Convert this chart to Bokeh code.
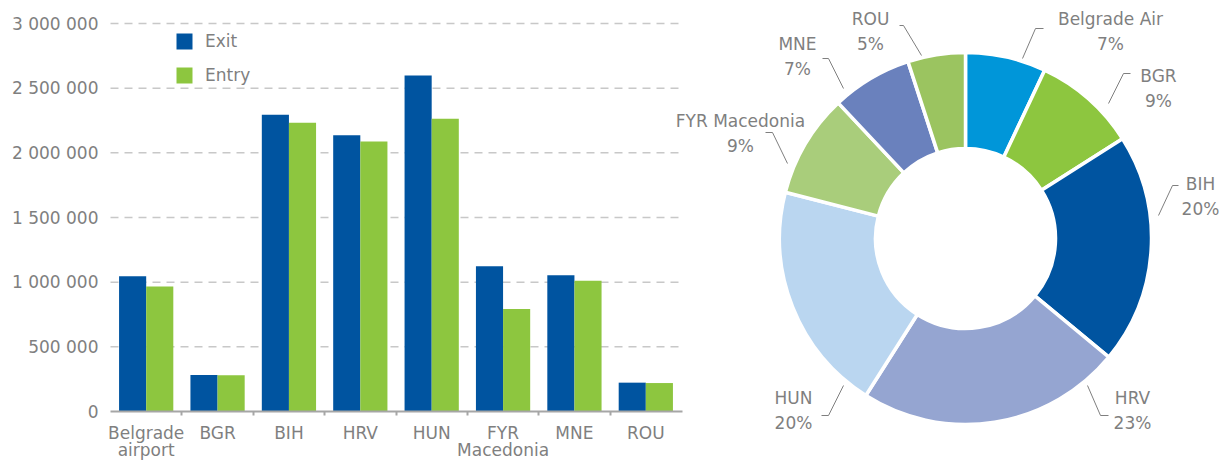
import numpy as np
from bokeh.plotting import figure
from bokeh.models import Range1d, FixedTicker, CustomJSTickFormatter, Legend, LegendItem, ColumnDataSource
from bokeh.core.properties import value
from bokeh.embed import file_html
from bokeh.resources import INLINE

# ---------------- data ----------------
categories = ["Belgrade\nairport", "BGR", "BIH", "HRV", "HUN", "FYR\nMacedonia", "MNE", "ROU"]
exit_vals = [1046000, 282000, 2295000, 2135000, 2597000, 1124000, 1054000, 223000]
entry_vals = [966000, 280000, 2233000, 2087000, 2264000, 793000, 1010000, 220000]
y_ticks = [0, 500000, 1000000, 1500000, 2000000, 2500000, 3000000]
y_tick_labels = ["0", "500 000", "1 000 000", "1 500 000", "2 000 000", "2 500 000", "3 000 000"]

pie_names = ["Belgrade Air", "BGR", "BIH", "HRV", "HUN", "FYR Macedonia", "MNE", "ROU"]
pie_pct = [7, 9, 20, 23, 20, 9, 7, 5]

# ---------------- styles / layout ----------------
W, H = 1222, 461
FONT = "DejaVu Sans"
TXT = "#7f7f7f"
C_EXIT = "#0054a0"
C_ENTRY = "#8dc63f"
pie_colors = ["#0096d9", "#8dc63f", "#0054a0", "#95a5d1", "#bad6f0", "#a9cd7b", "#6a81bd", "#9bc460"]

# bar-chart frame placement (pixels)
BAR_L, BAR_R, BAR_TOP, BAR_ZERO = 110, 681, 23, 411
YMAX = 3000000

# donut placement (pixels)
CX, CY = 965, 238
R_IN, R_OUT = 90, 186
lab_x = [1110, 1158, 1200, 1132, 793, 740, 797, 870]
lab_y = [18, 75, 183, 397, 397, 120, 43, 18]
lead_x = [[1043, 1035, 1022], [1130, 1123, 1108], [1178, 1172, 1158], [1108, 1100, 1087],
          [821, 828, 843], [765, 772, 787], [822, 828, 843], [899, 903, 921]]
lead_y = [[28, 28, 58], [73, 73, 103], [185, 185, 215], [415, 415, 385],
          [415, 415, 385], [132, 132, 163], [58, 58, 88], [25, 25, 55]]

# ---------------- figure ----------------
n = len(categories)
unit = (BAR_R - BAR_L) / n
ypx = YMAX / (BAR_ZERO - BAR_TOP)
x_range = Range1d(-BAR_L / unit, (W - BAR_L) / unit)
y_range = Range1d(-(H - BAR_ZERO) * ypx, YMAX + BAR_TOP * ypx)

p = figure(width=W, height=H, output_backend="svg", toolbar_location=None,
           x_range=x_range, y_range=y_range, min_border=0)
p.outline_line_color = None
p.grid.visible = False
p.background_fill_color = "white"
p.border_fill_color = "white"

# dashed grid lines (from the tick list)
g_y = [t for t in y_ticks if t > 0]
p.segment(x0=0, x1=n + 0.01, y0=g_y, y1=g_y, line_color="#c8c8c8", line_width=1.5, line_dash="8 6")

idx = np.arange(n)
bw = 0.38
r_exit = p.vbar(x=idx + 0.5 - bw / 2, top=exit_vals, width=bw, color=C_EXIT, line_color=None)
r_entry = p.vbar(x=idx + 0.5 + bw / 2, top=entry_vals, width=bw, color=C_ENTRY, line_color=None)

# x axis
xa = p.xaxis[0]
xa.fixed_location = 0
xa.bounds = (0, n + 0.01)
xa.ticker = FixedTicker(ticks=list(idx + 0.5), minor_ticks=list(range(1, n)))
xa.formatter = CustomJSTickFormatter(args=dict(labels=categories),
                                     code="const i = Math.round(tick - 0.5); return (i >= 0 && i < labels.length) ? labels[i] : '';")
xa.major_tick_line_color = None
xa.major_tick_out = 0
xa.major_tick_in = 0
xa.minor_tick_in = 0
xa.minor_tick_out = 4
xa.minor_tick_line_color = "#a6a6a6"
xa.minor_tick_line_width = 2
xa.axis_line_color = "#a6a6a6"
xa.axis_line_width = 2
xa.major_label_text_font = FONT
xa.major_label_text_font_size = "17px"
xa.major_label_text_color = TXT
xa.major_label_text_line_height = 0.86
xa.major_label_standoff = 7

# y axis
ya = p.yaxis[0]
ya.fixed_location = 0
ya.bounds = (0, YMAX)
ya.ticker = FixedTicker(ticks=y_ticks)
ya.formatter = CustomJSTickFormatter(args=dict(vals=y_ticks, labs=y_tick_labels),
                                     code="const i = vals.indexOf(tick); return i >= 0 ? labs[i] : '';")
ya.axis_line_color = None
ya.major_tick_line_color = None
ya.minor_tick_line_color = None
ya.major_tick_out = 0
ya.major_tick_in = 0
ya.major_label_text_font = FONT
ya.major_label_text_font_size = "17px"
ya.major_label_text_color = TXT
ya.major_label_standoff = 12

legend = Legend(items=[LegendItem(label="Exit", renderers=[r_exit]),
                       LegendItem(label="Entry", renderers=[r_entry])],
                location=(174, H - 84.5), orientation="vertical",
                glyph_width=20, glyph_height=20, label_standoff=11, spacing=14,
                padding=0, margin=0, border_line_color=None, background_fill_alpha=0,
                label_text_font=FONT, label_text_font_size="17px", label_text_color=TXT)
p.add_layout(legend)

# ---------------- donut (pixel coordinate ranges) ----------------
p.extra_x_ranges = {"px": Range1d(0, W)}
p.extra_y_ranges = {"py": Range1d(H, 0)}

pct = np.array(pie_pct, dtype=float)
frac = pct / pct.sum()
cum = np.concatenate([[0], np.cumsum(frac)])
start = np.pi / 2 - cum[:-1] * 2 * np.pi
end = np.pi / 2 - cum[1:] * 2 * np.pi
src = ColumnDataSource(dict(start=start, end=end, color=pie_colors))
p.annular_wedge(x=CX, y=CY, inner_radius=R_IN, outer_radius=R_OUT,
                inner_radius_units="screen", outer_radius_units="screen",
                start_angle="start", end_angle="end", direction="clock",
                fill_color="color", line_color="white", line_width=3.5, source=src,
                x_range_name="px", y_range_name="py")

p.multi_line(xs=lead_x, ys=lead_y, line_color=TXT, line_width=1, x_range_name="px", y_range_name="py")

pct_labels = [f"{v}%" for v in pie_pct]
p.text(x=lab_x, y=lab_y, text=pie_names, text_align="center", text_baseline="middle",
       text_font=value(FONT), text_font_size="17px", text_color=TXT,
       x_range_name="px", y_range_name="py")
p.text(x=lab_x, y=[y + 25 for y in lab_y], text=pct_labels, text_align="center", text_baseline="middle",
       text_font=value(FONT), text_font_size="17px", text_color=TXT,
       x_range_name="px", y_range_name="py")

open("out.html", "w").write(file_html(p, INLINE))
